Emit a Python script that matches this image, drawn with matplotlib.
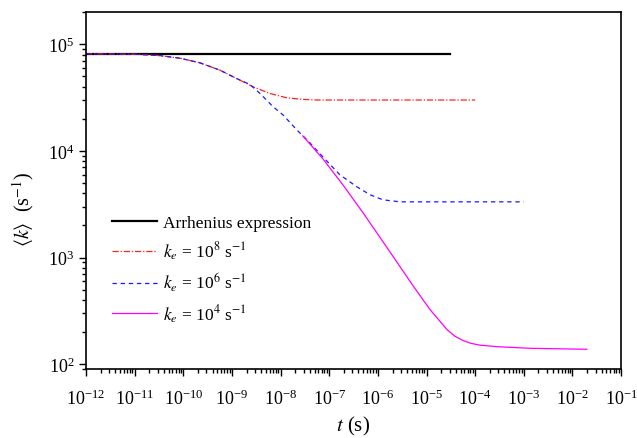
import numpy as np
import matplotlib
matplotlib.use('Agg')
import matplotlib.pyplot as plt
from matplotlib.ticker import LogLocator, NullFormatter

plt.rcParams['font.family'] = ['Liberation Serif', 'DejaVu Serif']
plt.rcParams['mathtext.fontset'] = 'stix'

# data
t_arr = [1e-12, 3e-5]
k_arr = [8.15e4, 8.15e4]

t_e8 = [1e-12, 1e-11, 3.3e-11, 8.6e-11, 2.2e-10, 5.7e-10, 1.25e-9, 2.74e-9,
        6.0e-9, 1.33e-8, 2.9e-8, 6e-8, 1e-4]
k_e8 = [8.15e4, 8.07e4, 7.83e4, 7.4e4, 6.7e4, 5.71e4, 4.77e4, 3.99e4,
        3.46e4, 3.15e4, 3.04e4, 3.0e4, 3.0e4]

t_e6 = [1e-12, 1e-11, 3.3e-11, 8.6e-11, 2.2e-10, 5.7e-10, 1.25e-9, 2.34e-9,
        3.77e-9, 7.06e-9, 1.13e-8, 2.17e-8, 4.0e-8, 7.4e-8, 1.66e-7, 3.7e-7,
        6.9e-7, 1.27e-6, 2.84e-6, 1e-3]
k_e6 = [8.15e4, 8.07e4, 7.83e4, 7.4e4, 6.7e4, 5.71e4, 4.77e4, 4.2e4,
        3.46e4, 2.59e4, 2.17e4, 1.57e4, 1.19e4, 8.79e3, 5.97e3, 4.61e3,
        3.88e3, 3.48e3, 3.33e3, 3.33e3]

t_e4 = [2.88e-8, 7.43e-8, 1.91e-7, 4.93e-7, 1.27e-6, 2.84e-6, 5.25e-6,
        1.17e-5, 2.62e-5, 3.83e-5, 5.6e-5, 8.17e-5, 1.25e-4, 2.79e-4,
        1.33e-3, 1.98e-2]
k_e4 = [1.38e4, 8410, 4810, 2640, 1410, 824, 547,
        327, 212, 183, 167, 157, 151, 146,
        141, 138]

fig = plt.figure(figsize=(6.37, 4.39), dpi=100)
ax = fig.add_axes([0.135, 0.157, 0.84, 0.813])

ax.plot(t_arr, k_arr, color='black', lw=1.6, label='Arrhenius expression')
ax.plot(t_e8, k_e8, color='#ff2020', lw=0.9, linestyle=(0, (5, 1.5, 1, 1.5)),
        label=r'$k_e$ = 10$^8$ s$^{-1}$')
ax.plot(t_e6, k_e6, color='#1a1aff', lw=0.9, linestyle=(0, (3.5, 3)),
        label=r'$k_e$ = 10$^6$ s$^{-1}$')
ax.plot(t_e4, k_e4, color='#ff00ff', lw=0.9, label=r'$k_e$ = 10$^4$ s$^{-1}$')

ax.set_xscale('log')
ax.set_yscale('log')
ax.set_xlim(1e-12, 1e-1)
ax.set_ylim(90, 2e5)

ax.xaxis.set_major_locator(LogLocator(base=10, numticks=20))
ax.xaxis.set_minor_locator(LogLocator(base=10, subs=np.arange(2, 10), numticks=20))
ax.xaxis.set_minor_formatter(NullFormatter())
ax.yaxis.set_minor_formatter(NullFormatter())

ax.tick_params(which='both', direction='out', top=False, right=False,
               labelsize=13, width=1.0)
ax.tick_params(which='major', length=5)
ax.tick_params(which='minor', length=3)
ax.tick_params(axis='x', which='major', pad=9)
for s in ax.spines.values():
    s.set_linewidth(1.2)

ax.set_xlabel(r'$t$ (s)', fontsize=15, labelpad=4)
ax.set_ylabel(r'$\langle k\rangle$  (s$^{-1}$)', fontsize=14.5)
ax.yaxis.set_label_coords(-0.093, 0.45)

ax.legend(loc='upper left', bbox_to_anchor=(0.02, 0.475), frameon=False,
          fontsize=12.5, handlelength=2.6, labelspacing=0.5, handletextpad=0.3)

fig.savefig('out.png', dpi=100)
